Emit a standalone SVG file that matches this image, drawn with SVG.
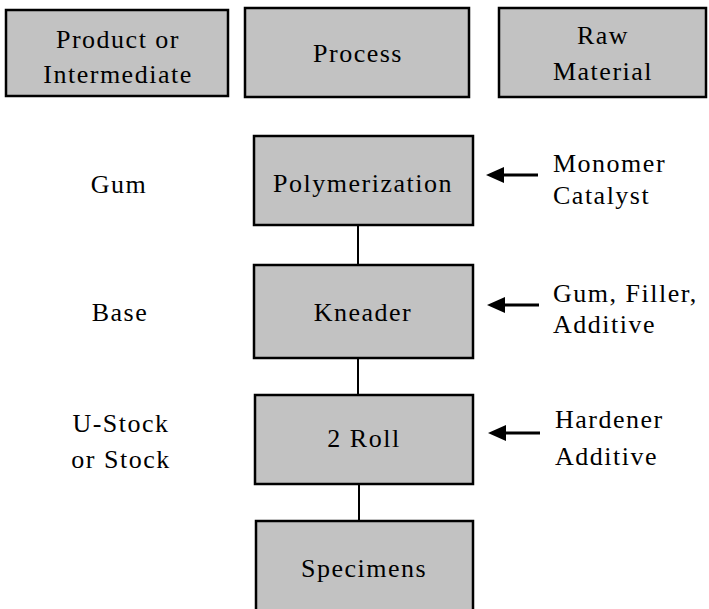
<svg xmlns="http://www.w3.org/2000/svg" width="709" height="609" viewBox="0 0 709 609">
  <style>
    .box { fill: #c2c2c2; stroke: #000; stroke-width: 2.5; }
    .conn { stroke: #000; stroke-width: 2; fill: none; }
    .arr { stroke: #000; stroke-width: 3; fill: none; }
  </style>
  <defs>
    <marker id="ah" markerWidth="18" markerHeight="16" refX="0" refY="8" orient="auto" markerUnits="userSpaceOnUse">
      <path d="M0,0 L18,8 L0,16 Z" fill="#000"/>
    </marker>
  </defs>

  <g font-family="Liberation Serif" font-size="26" letter-spacing="1.5" fill="#000">
  <g id="hdr-product">
    <rect class="box" x="6" y="10" width="222" height="86"/>
    <text text-anchor="middle" x="118" y="48">Product or</text>
    <text text-anchor="middle" x="118" y="83">Intermediate</text>
  </g>
  <g id="hdr-process">
    <rect class="box" x="245" y="8" width="224" height="89"/>
    <text text-anchor="middle" x="358" y="62">Process</text>
  </g>
  <g id="hdr-raw">
    <rect class="box" x="499" y="8" width="207" height="89"/>
    <text text-anchor="middle" x="603" y="44">Raw</text>
    <text text-anchor="middle" x="603" y="80">Material</text>
  </g>

  <g id="polymerization">
    <rect class="box" x="254" y="136" width="219" height="89"/>
    <text text-anchor="middle" x="363" y="192">Polymerization</text>
  </g>
  <g id="kneader">
    <rect class="box" x="254" y="265" width="219" height="93"/>
    <text text-anchor="middle" x="363" y="321">Kneader</text>
  </g>
  <g id="two-roll">
    <rect class="box" x="255" y="395" width="218" height="89"/>
    <text text-anchor="middle" x="364" y="447">2 Roll</text>
  </g>
  <g id="specimens">
    <rect class="box" x="256" y="521" width="217" height="95"/>
    <text text-anchor="middle" x="364" y="577">Specimens</text>
  </g>

  <g id="lbl-gum"><text text-anchor="middle" x="119" y="193">Gum</text></g>
  <g id="lbl-base"><text text-anchor="middle" x="120" y="321">Base</text></g>
  <g id="lbl-ustock">
    <text text-anchor="middle" x="121" y="432">U-Stock</text>
    <text text-anchor="middle" x="121" y="468">or Stock</text>
  </g>

  <g id="raw-1">
    <text x="553" y="172">Monomer</text>
    <text x="553" y="204">Catalyst</text>
  </g>
  <g id="raw-2">
    <text x="553" y="302">Gum, Filler,</text>
    <text x="553" y="333">Additive</text>
  </g>
  <g id="raw-3">
    <text x="555" y="428">Hardener</text>
    <text x="555" y="465">Additive</text>
  </g>
  </g>

  <g id="connectors">
    <line class="conn" x1="358" y1="225" x2="358" y2="265"/>
    <line class="conn" x1="358" y1="358" x2="358" y2="395"/>
    <line class="conn" x1="359" y1="484" x2="359" y2="521"/>
    <line class="arr" x1="538" y1="175" x2="504" y2="175" marker-end="url(#ah)"/>
    <line class="arr" x1="539" y1="305" x2="505" y2="305" marker-end="url(#ah)"/>
    <line class="arr" x1="540" y1="433" x2="506" y2="433" marker-end="url(#ah)"/>
  </g>
</svg>
